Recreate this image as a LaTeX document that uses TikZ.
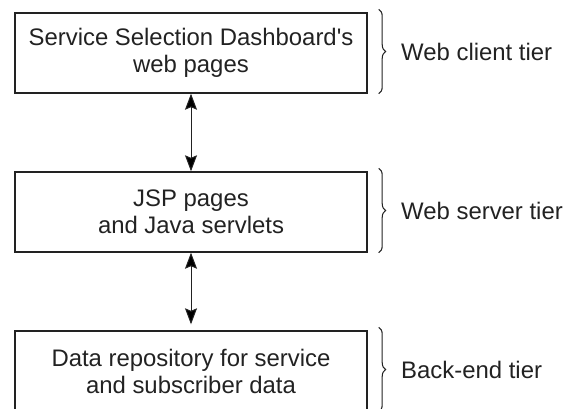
\documentclass[tikz,border=0pt]{standalone}
\usepackage{fontspec}
\setmainfont{Liberation Sans}
\usetikzlibrary{arrows.meta,positioning,decorations.pathreplacing}
\definecolor{inkgray}{HTML}{222222}
\tikzset{
    tier/.style={
    rectangle,draw=inkgray,line width=0.8pt,minimum width=7.04cm,minimum height=1.6cm,align=center,text=inkgray
    },
    link/.style={
    {Stealth[length=0.32cm,width=0.24cm,inset=0.05cm]}-{Stealth[length=0.32cm,width=0.24cm,inset=0.05cm]},line width=0.55pt,draw=inkgray
    },
    tierbrace/.style={
    decorate,decoration={brace,amplitude=0.14cm},draw=inkgray,line width=0.6pt
    },
    tierlabel/.style={
    inner sep=0pt,text=inkgray
    },
}

\begin{document}
\begin{tikzpicture}[node distance=3.18cm, on grid, font=\fontsize{13.6}{15.4}\selectfont]
   \useasboundingbox (0,0) rectangle (11.32,-8.16);
   \node[tier] (web) at (3.82,-1.06) {Service Selection Dashboard\textquotesingle s\\web pages};
   \node[tier,below=of web] (jsp) {JSP pages\\and Java servlets};
   \node[tier,below=of jsp] (repo) {Data repository for service\\and subscriber data};

  \path[link]
    (web) edge (jsp)
    (jsp) edge[shorten >=0.12cm] (repo);

  % braces naming each tier
  \draw[tierbrace] ([xshift=0.22cm,yshift=0.06cm]web.north east) -- ([xshift=0.22cm]web.south east)
    node[tierlabel,midway,right=0.44cm] {Web client tier};
  \draw[tierbrace] ([xshift=0.22cm,yshift=0.06cm]jsp.north east) -- ([xshift=0.22cm]jsp.south east)
    node[tierlabel,midway,right=0.44cm] {Web server tier};
  \draw[tierbrace] ([xshift=0.22cm,yshift=0.06cm]repo.north east) -- ([xshift=0.22cm]repo.south east)
    node[tierlabel,midway,right=0.44cm] {Back-end tier};
\end{tikzpicture}
\end{document}
